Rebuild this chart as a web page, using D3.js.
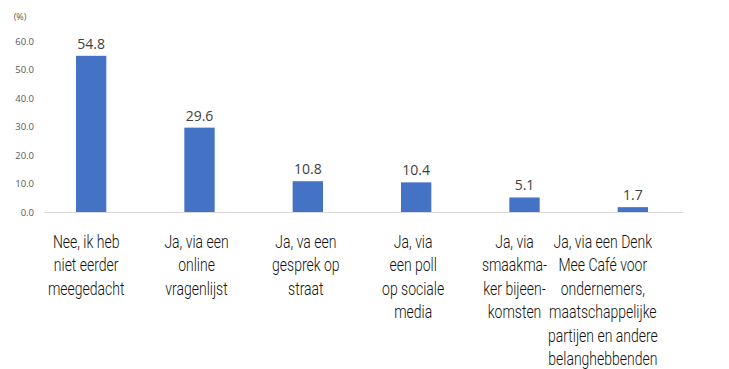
<!DOCTYPE html>
<html>
<head>
<meta charset="utf-8">
<script src="https://cdn.jsdelivr.net/npm/d3@7"></script>
<style>
  html, body { margin: 0; padding: 0; background: #fff; }
  svg { display: block; }
</style>
</head>
<body>
<svg id="chart" width="729" height="369"></svg>
<script>
// Survey responses: how respondents were involved (percent)
const categories = [
  ["Nee, ik heb", "niet eerder", "meegedacht"],
  ["Ja, via een", "online", "vragenlijst"],
  ["Ja, va een", "gesprek op", "straat"],
  ["Ja, via", "een poll", "op sociale", "media"],
  ["Ja, via", "smaakma-", "ker bijeen-", "komsten"],
  ["Ja, via een Denk", "Mee Café voor", "ondernemers,", "maatschappelijke", "partijen en andere", "belanghebbenden"]
];
const values = [54.8, 29.6, 10.8, 10.4, 5.1, 1.7];
const yTicks = [0, 10, 20, 30, 40, 50, 60];
const unitLabel = "(%)";

// horizontal nudges of the wrapped category text blocks
const labelShift = [-5, -3, -2, -3, -10, -30];

const svg = d3.select("#chart");
const axisX0 = 44, axisX1 = 683, yTop = 41, yBase = 212;

const x = d3.scaleBand()
  .domain(d3.range(values.length))
  .range([37, 687])
  .paddingInner(0.72)
  .paddingOuter(0.36);

const y = d3.scaleLinear().domain([0, 60]).range([yBase, yTop]);

// y axis labels only (no line, no tick marks)
const yAxis = d3.axisLeft(y).tickValues(yTicks).tickFormat(d3.format(".1f")).tickSize(0).tickPadding(0);
const gy = svg.append("g").attr("transform", "translate(34,0)").call(yAxis);
gy.select(".domain").remove();
gy.selectAll("text")
  .attr("fill", "#595959")
  .style("font-family", "'Open Sans', 'DejaVu Sans', sans-serif")
  .style("font-size", "9.5px");

svg.append("text")
  .attr("x", 20).attr("y", 20)
  .attr("text-anchor", "middle")
  .attr("fill", "#595959")
  .style("font-family", "'Open Sans', sans-serif")
  .style("font-size", "9px")
  .text(unitLabel);

// baseline
svg.append("line")
  .attr("x1", axisX0).attr("x2", axisX1)
  .attr("y1", y(0) + 0.5).attr("y2", y(0) + 0.5)
  .attr("stroke", "#d9d9d9").attr("stroke-width", 1);

// bars
svg.append("g").selectAll("rect")
  .data(values)
  .join("rect")
  .attr("x", (d, i) => x(i))
  .attr("width", x.bandwidth())
  .attr("y", d => y(d))
  .attr("height", d => y(0) - y(d))
  .attr("fill", "#4472c4");

// value labels
svg.append("g").selectAll("text")
  .data(values)
  .join("text")
  .attr("x", (d, i) => x(i) + x.bandwidth() / 2)
  .attr("y", d => y(d) - 7)
  .attr("text-anchor", "middle")
  .attr("fill", "#404040")
  .style("font-family", "'Open Sans', 'DejaVu Sans', sans-serif")
  .style("font-size", "14px")
  .text(d => d.toFixed(1));

// category labels (narrow light face, wrapped over several lines)
const catG = svg.append("g").selectAll("text")
  .data(categories)
  .join("text")
  .attr("text-anchor", "middle")
  .attr("fill", "#111")
  .style("font-family", "Roboto, 'DejaVu Sans', sans-serif")
  .style("font-weight", "300")
  .style("font-size", "17.5px")
  .attr("transform", (d, i) => `translate(${x(i) + x.bandwidth() / 2 + labelShift[i]},248) scale(0.8,1)`);

catG.selectAll("tspan")
  .data(d => d)
  .join("tspan")
  .attr("x", 0)
  .attr("y", (d, j) => j * 23.5)
  .text(d => d);
</script>
</body>
</html>
